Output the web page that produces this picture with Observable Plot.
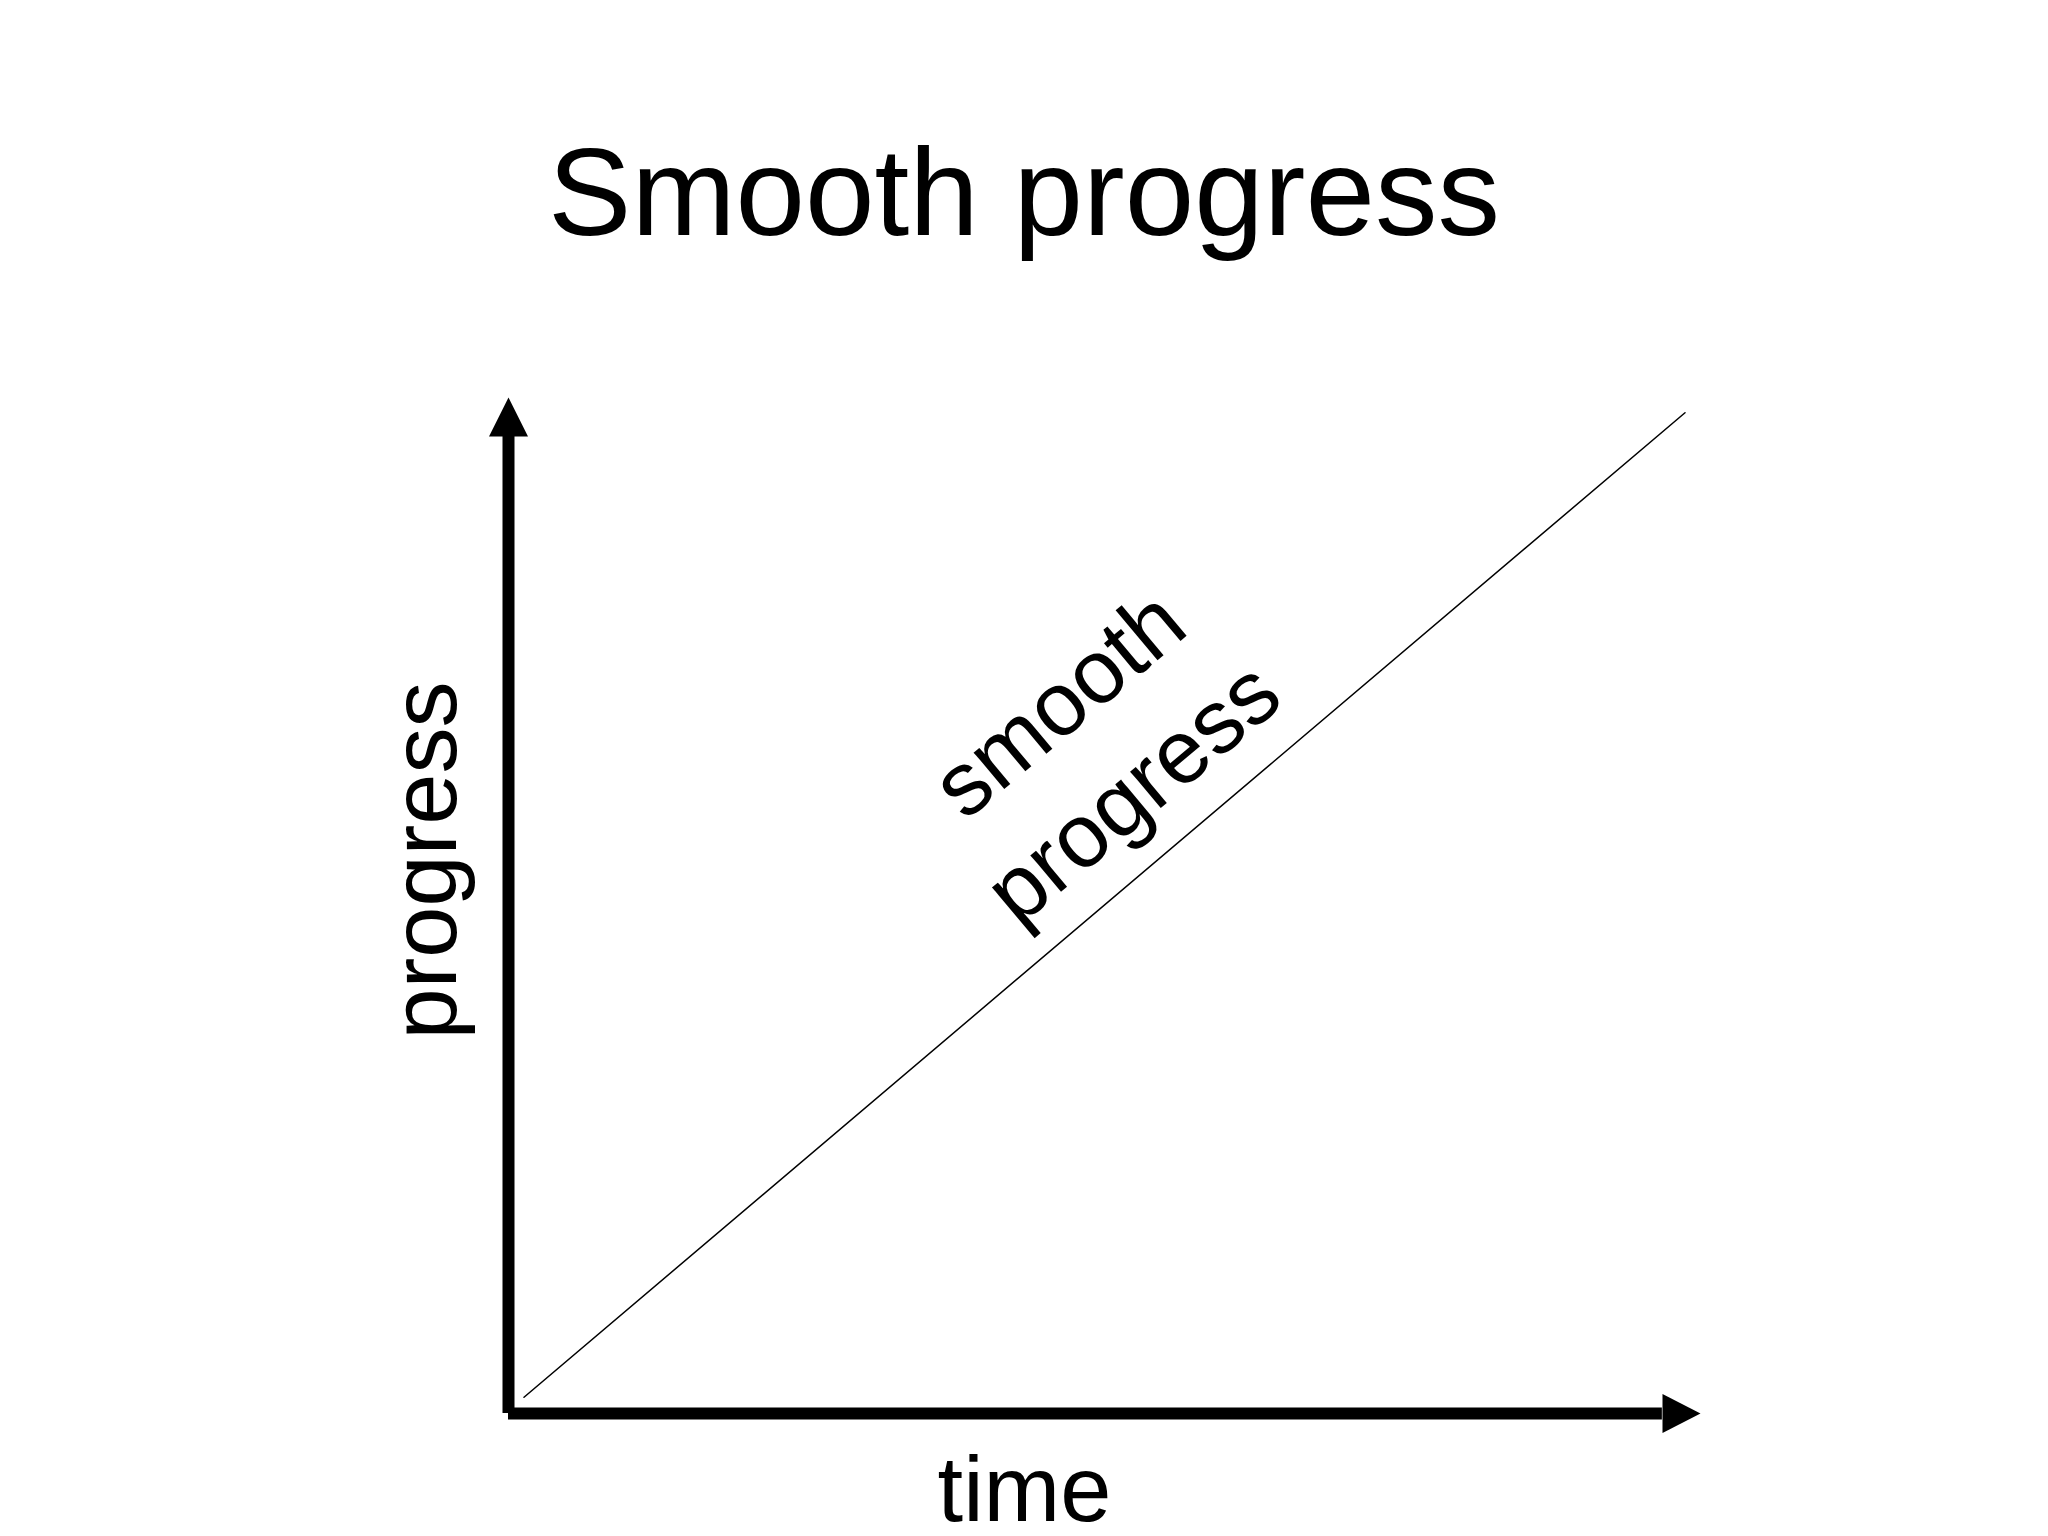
<!DOCTYPE html>
<html>
<head>
<meta charset="utf-8">
<script src="https://cdn.jsdelivr.net/npm/d3@7"></script>
<script src="https://cdn.jsdelivr.net/npm/@observablehq/plot@0.6"></script>
<style>
  html, body { margin: 0; padding: 0; background: #fff; }
  #wrap { width: 2048px; height: 1536px; overflow: hidden; font-family: "Liberation Sans", Arial, sans-serif; }
  #title { box-sizing: border-box; height: 300px; padding-top: 129px; font-size: 125px; line-height: 125px; text-align: center; color: #000; white-space: nowrap; }
  #chart svg { display: block; }
</style>
</head>
<body>
<div id="wrap">
  <div id="title">Smooth progress</div>
  <div id="chart"></div>
</div>
<script>
// ---- data ----
const titleText = "Smooth progress";
const xLabel = "time";
const yLabel = "progress";
const annotationLines = ["smooth", "progress"];

// the straight "smooth progress" line (time → progress)
const time = [0.013, 0.987];
const progress = [0.016, 0.985];

// axis arrows: shaft ends and arrow tips (in data units)
const xAxisShaftEnd = 0.968;
const yAxisShaftEnd = 0.962;
const xArrowTip = [1];
const yArrowTip = [1];

// annotation anchor (data units)
const annotTime = [0.489];
const annotProgress = [0.66];

// ---- build ----
const lineData = time.map((t, i) => ({time: t, progress: progress[i]}));
const annotData = annotTime.map((t, i) => ({time: t, progress: annotProgress[i], label: annotationLines.join("\n")}));

const arrowUp = {draw(ctx) { ctx.moveTo(0, 0); ctx.lineTo(19.5, 39); ctx.lineTo(-19.5, 39); ctx.closePath(); }};
const arrowRight = {draw(ctx) { ctx.moveTo(0, 0); ctx.lineTo(-38, 19.5); ctx.lineTo(-38, -19.5); ctx.closePath(); }};

const chart = Plot.plot({
  width: 2048,
  height: 1236,
  marginLeft: 508,
  marginRight: 348,
  marginTop: 97,
  marginBottom: 123,
  style: {fontFamily: "'Liberation Sans', Arial, sans-serif", background: "white", color: "black", overflow: "visible"},
  x: {domain: [0, 1], axis: null},
  y: {domain: [0, 1], axis: null},
  marks: [
    // axis shafts
    Plot.ruleX([0], {y1: 0, y2: yAxisShaftEnd, stroke: "black", strokeWidth: 12, strokeLinecap: "butt"}),
    Plot.ruleY([0], {x1: 0, x2: xAxisShaftEnd, stroke: "black", strokeWidth: 12, strokeLinecap: "butt"}),
    // arrow heads
    Plot.dot(yArrowTip, {x: () => 0, y: d => d, symbol: arrowUp, fill: "black", stroke: "none", r: 10}),
    Plot.dot(xArrowTip, {x: d => d, y: () => 0, symbol: arrowRight, fill: "black", stroke: "none", r: 10}),
    // data line
    Plot.line(lineData, {x: "time", y: "progress", stroke: "black", strokeWidth: 1.5}),
    // annotation
    Plot.text(annotData, {x: "time", y: "progress", text: "label", rotate: -40, fontSize: 90, lineHeight: 1.28, textAnchor: "middle", lineAnchor: "middle", fill: "black"}),
    // axis labels
    Plot.text([xLabel], {frameAnchor: "bottom", dx: -80, dy: 107, fontSize: 92, textAnchor: "middle", lineAnchor: "bottom", fill: "black"}),
    Plot.text([yLabel], {frameAnchor: "left", dx: -53, dy: -45, rotate: -90, fontSize: 92, textAnchor: "middle", lineAnchor: "bottom", fill: "black"})
  ]
});
document.getElementById("chart").appendChild(chart);
document.getElementById("title").textContent = titleText;
</script>
</body>
</html>
